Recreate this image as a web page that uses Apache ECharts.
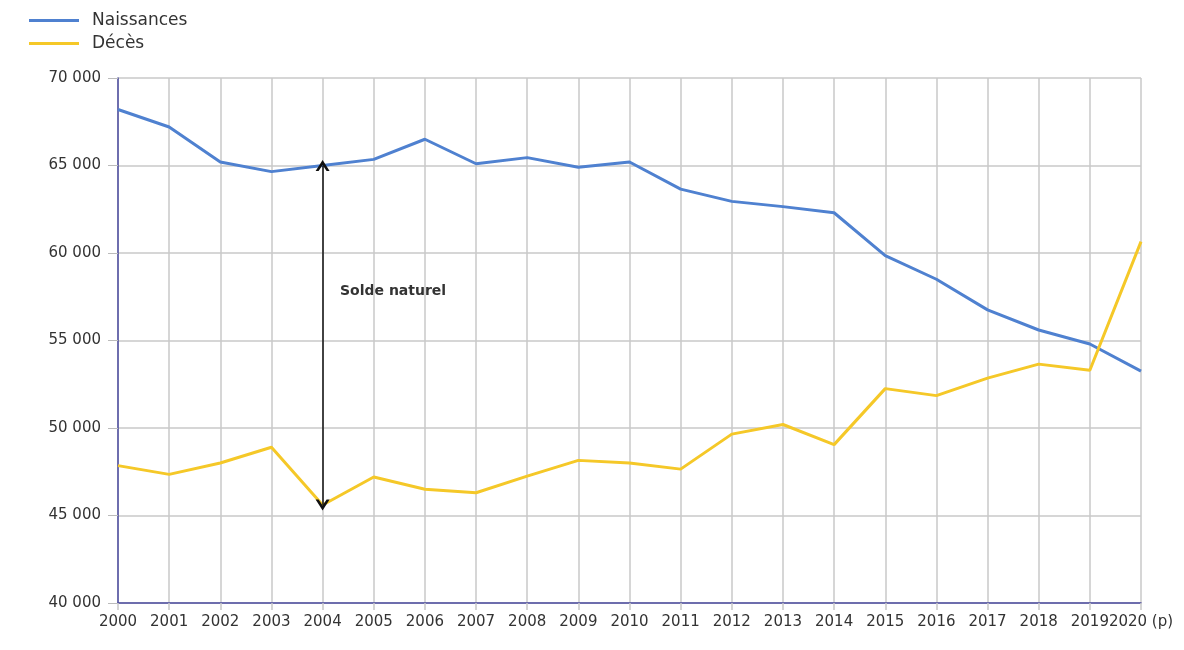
<!DOCTYPE html>
<html>
<head>
<meta charset="utf-8">
<script src="https://cdn.jsdelivr.net/npm/echarts@6/dist/echarts.min.js"></script>
<style>
html,body{margin:0;padding:0;background:#fff;}
#chart{width:1184px;height:650px;}
</style>
</head>
<body>
<div id="chart"></div>
<script>
let years=["2000","2001","2002","2003","2004","2005","2006","2007","2008","2009","2010",
    "2011","2012","2013","2014","2015","2016","2017","2018","2019","2020 (p)"];
let naissances=[68200,67200,65200,64650,65000,65350,66500,65100,65450,64900,65200,
    63650,62950,62650,62300,59850,58500,56750,55600,54800,53250];
let deces=[47850,47350,48000,48900,45600,47200,46500,46300,47250,48150,48000,
    47650,49650,50200,49050,52250,51850,52850,53650,53300,60650];
let yTicks=[40000,45000,50000,55000,60000,65000,70000];

let chartDom=document.getElementById("chart");
let myChart=echarts.init(chartDom);

// fleche (chevron epais) pour le solde naturel
const chevron='path://M0,10 L7,0 L14,10 L11,10 L7,4.5 L3,10 Z';
const font="DejaVu Sans";

let option={
    animation:false,
    textStyle:{fontFamily:font},
    legend:{
        orient:"vertical",
        left:24,
        top:7,
        itemWidth:50,
        itemHeight:3,
        itemGap:6,
        icon:"rect",
        textStyle:{fontSize:17,color:"#333",fontFamily:font,padding:[0,0,0,8]},
        data:["Naissances","Décès"]
    },
    grid:{left:118,right:43,top:78,bottom:47,containLabel:false},
    xAxis:{
        type:"category",
        data:years,
        boundaryGap:false,
        axisLine:{lineStyle:{color:"#4b4ba0",width:1.5}},
        axisTick:{show:true,alignWithLabel:true,length:7,lineStyle:{color:"#c8c8c8",width:1.5}},
        axisLabel:{interval:0,color:"#333",fontSize:15,margin:12,fontFamily:font},
        splitLine:{show:true,lineStyle:{color:"#c8c8c8",width:1.5}}
    },
    yAxis:{
        type:"value",
        min:yTicks[0],
        max:yTicks[yTicks.length-1],
        interval:5000,
        axisLine:{show:true,lineStyle:{color:"#4b4ba0",width:1.5}},
        axisTick:{show:true,length:10,lineStyle:{color:"#bbb"}},
        axisLabel:{
            color:"#333",fontSize:15,margin:17,fontFamily:font,
            formatter:function(v){return String(v).replace(/\B(?=(\d{3})+(?!\d))/g," ");}
        },
        splitLine:{show:true,lineStyle:{color:"#c8c8c8",width:1.5}}
    },
    series:[
        {
            name:"Naissances",
            type:"line",
            data:naissances,
            symbol:"none",
            lineStyle:{color:"#4f81d0",width:3},
            itemStyle:{color:"#4f81d0"},
            markLine:{
                silent:true,
                symbol:[chevron,chevron],
                symbolSize:[14,11],
                lineStyle:{color:"#111",width:1.5,type:"solid"},
                label:{show:false},
                data:[[
                    {coord:[years[4],naissances[4]]},
                    {coord:[years[4],deces[4]]}
                ]]
            }
        },
        {
            name:"Décès",
            type:"line",
            data:deces,
            symbol:"none",
            lineStyle:{color:"#f5c828",width:3},
            itemStyle:{color:"#f5c828"}
        }
    ],
    graphic:[
        {
            type:"text",
            left:340,
            top:284,
            style:{text:"Solde naturel",font:"bold 14px 'DejaVu Sans'",fill:"#333"}
        }
    ]
};
myChart.setOption(option);
</script>
</body>
</html>
